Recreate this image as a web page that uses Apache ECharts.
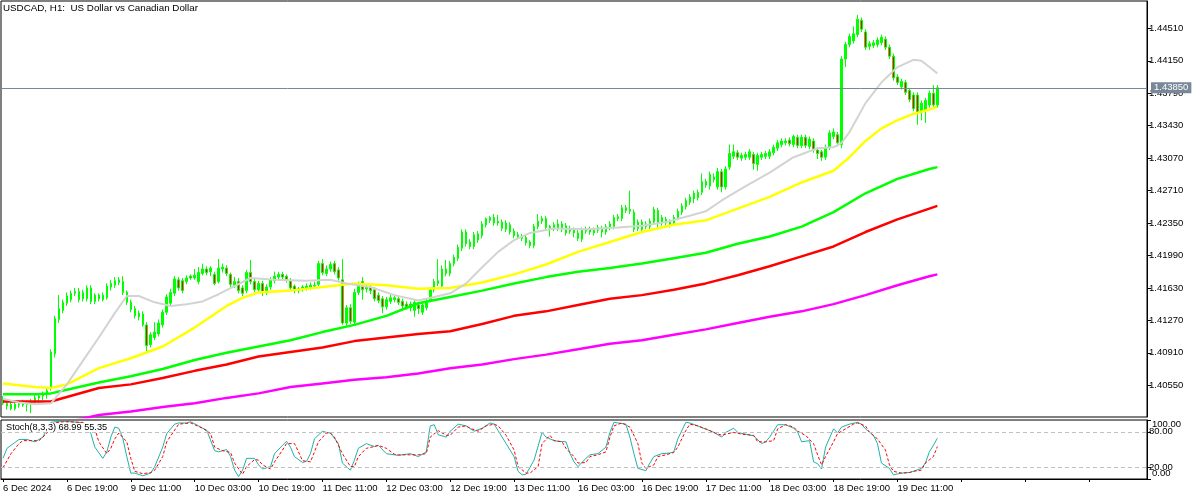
<!DOCTYPE html>
<html><head><meta charset="utf-8">
<script src="https://cdn.jsdelivr.net/npm/echarts@6/dist/echarts.min.js"></script>
<style>html,body{margin:0;padding:0;background:#fff}#c{width:1200px;height:500px}</style>
</head><body><div id="c"></div><script>
const chartTitle = 'USDCAD, H1:  US Dollar vs Canadian Dollar';
const stochTitle = 'Stoch(8,3,3) 68.99 55.35';
const bidPrice = 1.43850;
// x-axis tick labels, one every 16 hourly bars, starting at bar 0 (6 Dec 03:00)
const tickLabels = ['6 Dec 2024','6 Dec 19:00','9 Dec 11:00','10 Dec 03:00','10 Dec 19:00','11 Dec 11:00','12 Dec 03:00','12 Dec 19:00','13 Dec 11:00','16 Dec 03:00','16 Dec 19:00','17 Dec 11:00','18 Dec 03:00','18 Dec 19:00','19 Dec 11:00'];
const priceTicks = [1.40550,1.40910,1.41270,1.41630,1.41990,1.42350,1.42710,1.43070,1.43430,1.43790,1.44150,1.44510];
const stochLevelTicks = [20,80];
const stochEdgeTicks = [0,100];
// hourly candles: [open, high, low, close]
const candles = [
[1.4040,1.4043,1.4033,1.4035],[1.4035,1.4038,1.4028,1.4032],[1.4034,1.4036,1.4027,1.4029],[1.4029,1.4037,1.4027,1.4034],
[1.4034,1.4038,1.4030,1.4033],[1.4033,1.4039,1.4031,1.4036],[1.4036,1.4038,1.4026,1.4034],[1.4034,1.4040,1.4024,1.4037],
[1.4037,1.4044,1.4034,1.4041],[1.4041,1.4046,1.4037,1.4043],[1.4043,1.4048,1.4038,1.4045],[1.4045,1.4052,1.4040,1.4049],
[1.4052,1.4095,1.4049,1.4092],[1.4090,1.4132,1.4086,1.4129],[1.4128,1.4155,1.4124,1.4140],[1.4138,1.4150,1.4135,1.4147],
[1.4146,1.4158,1.4143,1.4154],[1.4150,1.4160,1.4147,1.4157],[1.4157,1.4163,1.4154,1.4159],[1.4159,1.4163,1.4147,1.4150],
[1.4151,1.4161,1.4148,1.4158],[1.4151,1.4166,1.4148,1.4163],[1.4163,1.4166,1.4145,1.4148],[1.4148,1.4157,1.4145,1.4155],
[1.4155,1.4157,1.4148,1.4151],[1.4150,1.4158,1.4148,1.4155],[1.4152,1.4168,1.4150,1.4165],[1.4164,1.4172,1.4160,1.4168],
[1.4166,1.4175,1.4163,1.4171],[1.4169,1.4175,1.4166,1.4172],[1.4170,1.4176,1.4155,1.4158],[1.4158,1.4160,1.4144,1.4147],
[1.4147,1.4150,1.4136,1.4139],[1.4140,1.4143,1.4129,1.4132],[1.4131,1.4138,1.4127,1.4135],[1.4134,1.4137,1.4120,1.4122],
[1.4122,1.4125,1.4093,1.4099],[1.4100,1.4114,1.4097,1.4111],[1.4108,1.4125,1.4105,1.4114],[1.4112,1.4128,1.4109,1.4124],
[1.4122,1.4139,1.4119,1.4136],[1.4136,1.4156,1.4133,1.4153],[1.4146,1.4162,1.4143,1.4158],[1.4157,1.4176,1.4154,1.4173],
[1.4172,1.4175,1.4160,1.4163],[1.4171,1.4174,1.4157,1.4160],[1.4170,1.4177,1.4167,1.4174],[1.4176,1.4178,1.4172,1.4174],
[1.4174,1.4184,1.4172,1.4177],[1.4170,1.4186,1.4167,1.4180],[1.4179,1.4190,1.4177,1.4184],[1.4184,1.4187,1.4177,1.4180],
[1.4181,1.4187,1.4176,1.4185],[1.4178,1.4181,1.4166,1.4168],[1.4170,1.4195,1.4168,1.4185],[1.4184,1.4190,1.4180,1.4186],
[1.4185,1.4188,1.4176,1.4179],[1.4178,1.4180,1.4164,1.4167],[1.4166,1.4175,1.4163,1.4170],[1.4170,1.4174,1.4157,1.4160],
[1.4163,1.4166,1.4154,1.4157],[1.4160,1.4183,1.4157,1.4180],[1.4180,1.4194,1.4167,1.4170],[1.4170,1.4174,1.4158,1.4161],
[1.4161,1.4171,1.4158,1.4168],[1.4168,1.4171,1.4154,1.4158],[1.4158,1.4167,1.4155,1.4164],[1.4164,1.4175,1.4161,1.4172],
[1.4171,1.4181,1.4168,1.4176],[1.4175,1.4181,1.4172,1.4178],[1.4178,1.4181,1.4172,1.4175],[1.4176,1.4178,1.4169,1.4172],
[1.4171,1.4174,1.4160,1.4163],[1.4165,1.4167,1.4157,1.4160],[1.4160,1.4164,1.4157,1.4162],[1.4162,1.4166,1.4159,1.4164],
[1.4163,1.4168,1.4160,1.4165],[1.4164,1.4169,1.4161,1.4166],[1.4165,1.4170,1.4162,1.4166],[1.4167,1.4193,1.4165,1.4190],
[1.4190,1.4195,1.4177,1.4180],[1.4179,1.4188,1.4176,1.4184],[1.4184,1.4192,1.4181,1.4189],[1.4190,1.4193,1.4178,1.4181],
[1.4183,1.4186,1.4171,1.4174],[1.4172,1.4195,1.4122,1.4124],[1.4124,1.4144,1.4121,1.4141],[1.4141,1.4145,1.4123,1.4126],
[1.4125,1.4162,1.4122,1.4158],[1.4158,1.4170,1.4155,1.4165],[1.4170,1.4175,1.4150,1.4161],[1.4162,1.4168,1.4158,1.4164],
[1.4164,1.4167,1.4156,1.4160],[1.4161,1.4164,1.4148,1.4151],[1.4155,1.4158,1.4146,1.4149],[1.4151,1.4154,1.4135,1.4142],
[1.4142,1.4153,1.4139,1.4150],[1.4148,1.4156,1.4145,1.4152],[1.4150,1.4155,1.4147,1.4152],[1.4151,1.4154,1.4144,1.4147],
[1.4148,1.4151,1.4140,1.4143],[1.4145,1.4148,1.4139,1.4142],[1.4145,1.4148,1.4137,1.4141],[1.4138,1.4150,1.4131,1.4147],
[1.4144,1.4147,1.4134,1.4140],[1.4136,1.4147,1.4133,1.4144],[1.4141,1.4151,1.4138,1.4147],[1.4150,1.4164,1.4147,1.4161],
[1.4161,1.4173,1.4158,1.4170],[1.4168,1.4195,1.4165,1.4171],[1.4165,1.4188,1.4162,1.4184],[1.4184,1.4194,1.4176,1.4179],
[1.4179,1.4193,1.4176,1.4190],[1.4190,1.4200,1.4187,1.4197],[1.4196,1.4211,1.4193,1.4208],[1.4207,1.4228,1.4204,1.4225],
[1.4225,1.4228,1.4209,1.4212],[1.4214,1.4217,1.4206,1.4209],[1.4209,1.4225,1.4206,1.4222],[1.4216,1.4226,1.4213,1.4223],
[1.4221,1.4237,1.4218,1.4234],[1.4233,1.4241,1.4230,1.4240],[1.4238,1.4243,1.4235,1.4241],[1.4241,1.4245,1.4232,1.4235],
[1.4235,1.4244,1.4232,1.4237],[1.4236,1.4239,1.4226,1.4229],[1.4228,1.4238,1.4225,1.4235],[1.4233,1.4236,1.4222,1.4225],
[1.4226,1.4229,1.4218,1.4221],[1.4220,1.4225,1.4217,1.4222],[1.4220,1.4223,1.4215,1.4218],[1.4219,1.4222,1.4210,1.4213],
[1.4214,1.4216,1.4207,1.4210],[1.4210,1.4234,1.4207,1.4231],[1.4231,1.4245,1.4228,1.4237],[1.4237,1.4243,1.4234,1.4240],
[1.4240,1.4243,1.4227,1.4230],[1.4231,1.4233,1.4220,1.4229],[1.4229,1.4236,1.4226,1.4233],[1.4229,1.4239,1.4226,1.4234],
[1.4234,1.4237,1.4225,1.4228],[1.4224,1.4235,1.4221,1.4232],[1.4229,1.4232,1.4223,1.4226],[1.4224,1.4230,1.4219,1.4227],
[1.4224,1.4227,1.4215,1.4218],[1.4217,1.4230,1.4214,1.4227],[1.4226,1.4231,1.4223,1.4228],[1.4228,1.4231,1.4222,1.4225],
[1.4224,1.4230,1.4221,1.4227],[1.4227,1.4233,1.4224,1.4230],[1.4229,1.4232,1.4219,1.4225],[1.4225,1.4234,1.4222,1.4231],
[1.4230,1.4237,1.4227,1.4234],[1.4231,1.4244,1.4228,1.4241],[1.4240,1.4245,1.4237,1.4242],[1.4240,1.4255,1.4237,1.4252],
[1.4252,1.4255,1.4246,1.4249],[1.4248,1.4271,1.4245,1.4250],[1.4247,1.4250,1.4225,1.4228],[1.4229,1.4239,1.4226,1.4236],
[1.4236,1.4239,1.4225,1.4228],[1.4231,1.4237,1.4228,1.4234],[1.4231,1.4240,1.4228,1.4237],[1.4236,1.4253,1.4233,1.4250],
[1.4249,1.4252,1.4230,1.4235],[1.4235,1.4244,1.4232,1.4241],[1.4239,1.4242,1.4232,1.4235],[1.4233,1.4239,1.4230,1.4236],
[1.4235,1.4244,1.4232,1.4241],[1.4241,1.4251,1.4238,1.4248],[1.4247,1.4257,1.4244,1.4254],[1.4253,1.4263,1.4250,1.4260],
[1.4258,1.4267,1.4255,1.4264],[1.4268,1.4271,1.4257,1.4262],[1.4263,1.4272,1.4260,1.4269],[1.4269,1.4290,1.4266,1.4281],
[1.4281,1.4284,1.4274,1.4277],[1.4276,1.4292,1.4272,1.4289],[1.4283,1.4290,1.4280,1.4286],[1.4275,1.4296,1.4272,1.4292],
[1.4292,1.4295,1.4269,1.4275],[1.4275,1.4298,1.4272,1.4295],[1.4297,1.4322,1.4294,1.4312],[1.4309,1.4322,1.4306,1.4314],
[1.4313,1.4316,1.4305,1.4308],[1.4307,1.4313,1.4304,1.4310],[1.4308,1.4314,1.4305,1.4311],[1.4308,1.4317,1.4305,1.4314],
[1.4311,1.4314,1.4294,1.4301],[1.4300,1.4313,1.4293,1.4310],[1.4308,1.4314,1.4305,1.4311],[1.4309,1.4315,1.4306,1.4312],
[1.4309,1.4317,1.4306,1.4314],[1.4313,1.4322,1.4310,1.4319],[1.4318,1.4327,1.4315,1.4324],[1.4322,1.4329,1.4319,1.4326],
[1.4324,1.4329,1.4321,1.4326],[1.4327,1.4330,1.4320,1.4323],[1.4322,1.4333,1.4319,1.4331],[1.4330,1.4333,1.4318,1.4321],
[1.4321,1.4333,1.4318,1.4330],[1.4330,1.4333,1.4318,1.4321],[1.4320,1.4331,1.4317,1.4328],[1.4326,1.4329,1.4313,1.4316],
[1.4316,1.4319,1.4306,1.4312],[1.4314,1.4316,1.4304,1.4308],[1.4308,1.4322,1.4305,1.4319],[1.4319,1.4338,1.4316,1.4335],
[1.4331,1.4340,1.4328,1.4336],[1.4333,1.4336,1.4320,1.4324],[1.4322,1.4420,1.4318,1.4417],[1.4417,1.4436,1.4408,1.4433],
[1.4433,1.4445,1.4430,1.4442],[1.4437,1.4453,1.4434,1.4445],[1.4444,1.4466,1.4441,1.4461],[1.4460,1.4463,1.4447,1.4450],
[1.4447,1.4450,1.4427,1.4430],[1.4431,1.4437,1.4427,1.4434],[1.4432,1.4438,1.4429,1.4435],[1.4433,1.4441,1.4430,1.4438],
[1.4435,1.4444,1.4432,1.4441],[1.4439,1.4442,1.4427,1.4430],[1.4430,1.4433,1.4417,1.4420],[1.4420,1.4423,1.4393,1.4396],
[1.4397,1.4400,1.4388,1.4391],[1.4386,1.4395,1.4383,1.4392],[1.4391,1.4394,1.4377,1.4380],[1.4382,1.4385,1.4369,1.4372],
[1.4377,1.4380,1.4359,1.4362],[1.4377,1.4380,1.4344,1.4357],[1.4358,1.4371,1.4349,1.4368],[1.4360,1.4374,1.4346,1.4371],
[1.4366,1.4382,1.4363,1.4379],[1.4379,1.4388,1.4363,1.4366],[1.4366,1.4388,1.4363,1.4385]
];
// moving averages: [bar index, value]
const maGrey = [[0,1.4040],[4,1.4036],[8,1.4034],[12,1.4035],[16,1.4056],[20,1.4082],[24,1.4108],[28,1.4135],[31,1.4154],[34,1.4154],[38,1.4147],[42,1.4143],[46,1.4145],[50,1.4148],[54,1.4156],[58,1.4165],[62,1.4174],[68,1.4172],[76,1.4171],[82,1.4172],[86,1.4168],[92,1.4164],[98,1.4155],[104,1.4149],[108,1.4153],[112,1.4157],[116,1.4168],[120,1.4186],[124,1.4203],[128,1.4216],[132,1.4224],[138,1.4229],[146,1.4228],[154,1.4230],[160,1.4232],[166,1.4236],[172,1.4243],[176,1.4248],[180,1.4260],[186,1.4276],[192,1.4291],[198,1.4308],[204,1.4318],[208,1.4319],[210,1.4324],[212,1.4336],[216,1.4368],[220,1.4391],[224,1.4408],[228,1.4416],[230,1.4415],[232,1.4408],[234,1.4401]];
const maYellow = [[0,1.4057],[8,1.4053],[12,1.4052],[16,1.4056],[24,1.4074],[32,1.4085],[40,1.4098],[48,1.4119],[56,1.4143],[60,1.4152],[64,1.4158],[72,1.4160],[80,1.4164],[88,1.4168],[96,1.4166],[104,1.4162],[112,1.4163],[120,1.4169],[128,1.4178],[136,1.4189],[144,1.4203],[152,1.4214],[160,1.4225],[168,1.4233],[176,1.4238],[184,1.4251],[192,1.4264],[200,1.4280],[208,1.4293],[212,1.4308],[216,1.4326],[220,1.4340],[224,1.4349],[228,1.4356],[232,1.4361],[234,1.4364]];
const maGreen = [[0,1.4045],[8,1.4045],[12,1.4046],[16,1.4050],[24,1.4058],[32,1.4065],[40,1.4073],[48,1.4083],[56,1.4091],[64,1.4098],[72,1.4105],[80,1.4114],[88,1.4122],[96,1.4132],[104,1.4146],[112,1.4153],[120,1.4160],[128,1.4168],[136,1.4175],[144,1.4181],[152,1.4185],[160,1.4190],[168,1.4196],[176,1.4202],[184,1.4212],[192,1.4220],[200,1.4231],[208,1.4247],[216,1.4268],[224,1.4284],[232,1.4295],[234,1.4297]];
const maRed = [[0,1.4037],[8,1.4037],[12,1.4037],[16,1.4042],[24,1.4052],[32,1.4056],[40,1.4063],[48,1.4071],[56,1.4078],[64,1.4087],[72,1.4092],[80,1.4097],[88,1.4104],[96,1.4108],[104,1.4112],[112,1.4115],[120,1.4123],[128,1.4132],[136,1.4137],[144,1.4144],[152,1.4151],[160,1.4155],[168,1.4161],[176,1.4168],[184,1.4177],[192,1.4187],[200,1.4198],[208,1.4209],[216,1.4225],[224,1.4239],[232,1.4251],[234,1.4254]];
const maMagenta = [[16,1.4014],[24,1.4022],[32,1.4026],[40,1.4031],[48,1.4035],[56,1.4041],[64,1.4046],[72,1.4053],[80,1.4057],[88,1.4061],[96,1.4064],[104,1.4068],[112,1.4074],[120,1.4078],[128,1.4084],[136,1.4089],[144,1.4095],[152,1.4101],[160,1.4105],[168,1.4111],[176,1.4117],[184,1.4124],[192,1.4131],[200,1.4137],[208,1.4145],[216,1.4155],[224,1.4166],[232,1.4176],[234,1.4178]];
// stochastic %K (main) and %D (signal): [bar index, value]
const stochMain = [[0,35],[1,52],[3,62],[4,67],[6,67],[8,63],[10,71],[11,85],[12,96],[13,97],[15,98],[17,97],[19,96],[20,95],[21,88],[22,77],[23,54],[25,35],[26,46],[27,71],[28,88],[29,86],[30,69],[31,38],[32,10],[33,10],[35,5.5],[37,10],[38,21],[40,54],[41,77],[43,93],[44,95],[46,95],[47,97],[49,90],[50,86],[51,83],[53,48],[54,46],[56,50],[57,38],[58,15],[59,4],[60,15],[61,35],[63,35],[64,24],[65,17],[67,21],[68,43],[70,57],[71,64],[72,54],[73,38],[75,28],[76,30],[77,43],[78,68],[80,81],[81,79],[82,78],[84,60],[85,27],[87,15],[88,32],[89,52],[91,60],[93,55],[94,57],[96,43],[98,41],[99,40],[102,43],[104,38],[106,46],[107,90],[108,92],[109,75],[111,71],[112,81],[114,93],[116,90],[118,81],[120,86],[122,95],[123,93],[124,82],[126,60],[128,38],[129,13],[130,7],[131,8],[133,32],[135,79],[136,71],[138,65],[139,64],[141,63],[142,43],[143,29],[144,21],[146,35],[147,41],[149,43],[151,54],[152,79],[153,96],[154,95],[156,93],[157,71],[158,43],[159,18],[161,14],[162,27],[163,38],[165,43],[167,44],[168,46],[169,68],[171,96],[172,95],[174,90],[175,87],[177,82],[178,79],[180,71],[181,79],[183,86],[184,79],[186,76],[188,73],[190,60],[191,63],[192,71],[194,92],[196,92],[198,86],[199,80],[200,63],[202,65],[203,29],[204,26],[205,17],[206,54],[208,85],[209,78],[210,88],[212,93],[214,96],[215,93],[216,85],[218,74],[219,60],[220,27],[222,18],[223,7],[225,10],[227,11],[228,13],[230,18],[231,27],[232,46],[233,57],[234,69]];
const stochSignal = [[0,19],[2,43],[4,60],[5,65],[7,65],[9,65],[10,71],[11,78],[12,88],[13,95],[15,97],[17,97],[19,96],[20,96],[21,92],[23,85],[24,63],[26,43],[27,52],[28,68],[29,78],[31,63],[32,35],[33,13],[35,9],[37,11],[38,15],[40,38],[41,63],[43,83],[44,93],[47,95],[48,92],[50,86],[52,77],[53,54],[55,48],[57,45],[58,27],[60,8],[61,21],[63,33],[64,32],[65,24],[67,17],[68,29],[70,49],[71,60],[73,60],[74,46],[75,31],[77,29],[78,46],[79,63],[81,78],[82,78],[83,71],[85,43],[87,21],[88,21],[89,38],[91,52],[93,55],[94,57],[96,52],[98,42],[99,41],[102,41],[104,41],[106,43],[107,71],[109,82],[111,74],[112,74],[114,88],[116,90],[117,86],[119,81],[121,90],[123,93],[124,90],[126,74],[128,49],[129,21],[131,10],[132,10],[134,21],[135,60],[137,74],[138,65],[140,63],[141,52],[143,38],[144,27],[146,28],[147,38],[149,41],[151,46],[152,71],[153,90],[155,95],[157,88],[159,60],[160,27],[161,18],[163,24],[164,38],[166,41],[168,45],[169,54],[171,82],[172,93],[174,90],[176,85],[178,79],[180,74],[181,76],[183,79],[185,76],[188,74],[189,63],[191,63],[193,65],[194,85],[196,92],[198,88],[199,81],[201,74],[203,60],[204,41],[205,24],[206,38],[208,63],[209,77],[211,85],[213,93],[214,95],[216,90],[217,79],[219,68],[221,49],[222,24],[223,13],[225,10],[227,11],[228,13],[230,15],[231,27],[233,38],[234,55]];

const SLOTS = 287; // data bars plus empty right-side shift
const xCats = [];
for (let i = 0; i < SLOTS; i++) {
  const k = i / 16;
  xCats.push(i % 16 === 0 && k < tickLabels.length ? tickLabels[k] : '');
}
const candleData = candles.map(r => [r[0], r[3], r[2], r[1]]);

const FONT = 'Liberation Sans';
const chart = echarts.init(document.getElementById('c'));
const maLine = (data, color, width, extra) => Object.assign({
  type: 'line', xAxisIndex: 0, yAxisIndex: 0, data: data, symbol: 'none',
  lineStyle: { color: color, width: width }, z: 3, silent: true
}, extra || {});
const lbl = { fontFamily: FONT, fontSize: 9.5, color: '#000' };
chart.setOption({
  animation: false,
  backgroundColor: '#fff',
  title: [
    { text: chartTitle, left: 3, top: 3, padding: 0,
      textStyle: { fontFamily: FONT, fontSize: 9.8, fontWeight: 'normal', color: '#000' } },
    { text: stochTitle, left: 5, top: 423, padding: [0, 1, 0, 1], backgroundColor: '#fff', z: 10,
      textStyle: { fontFamily: FONT, fontSize: 9.2, fontWeight: 'normal', color: '#000' } }
  ],
  grid: [
    { left: 1, top: 1, width: 1146, height: 416, show: true, borderColor: '#000', borderWidth: 1, backgroundColor: '#fff' },
    { left: 1, top: 420, width: 1146, height: 59, show: true, borderColor: '#000', borderWidth: 1, backgroundColor: '#fff' }
  ],
  xAxis: [
    { type: 'category', gridIndex: 0, data: xCats, boundaryGap: true,
      axisLine: { show: false }, axisTick: { show: false }, axisLabel: { show: false }, splitLine: { show: false } },
    { type: 'category', gridIndex: 1, data: xCats, boundaryGap: true,
      axisLine: { show: true, lineStyle: { color: '#000' } },
      axisTick: { show: true, interval: 15, alignWithLabel: true, length: 3, lineStyle: { color: '#000' } },
      axisLabel: Object.assign({ interval: 15, align: 'left', margin: 4 }, lbl),
      splitLine: { show: false } }
  ],
  yAxis: [
    { type: 'value', gridIndex: 0, position: 'right', min: 1.40198, max: 1.44813,
      axisLine: { show: true, lineStyle: { color: '#000' } },
      axisTick: { show: true, length: 4, customValues: priceTicks, lineStyle: { color: '#000' } },
      axisLabel: Object.assign({ customValues: priceTicks, margin: 2, showMinLabel: true, showMaxLabel: true,
        formatter: v => v.toFixed(5) }, lbl),
      splitLine: { show: false } },
    { type: 'value', gridIndex: 1, position: 'right', min: 0, max: 100,
      axisLine: { show: true, lineStyle: { color: '#000' } },
      axisTick: { show: true, length: 4, customValues: stochEdgeTicks.concat(stochLevelTicks), lineStyle: { color: '#000' } },
      axisLabel: Object.assign({ customValues: stochLevelTicks, margin: 2, showMinLabel: true, showMaxLabel: true,
        formatter: v => v.toFixed(2) }, lbl),
      splitLine: { show: false } },
    { type: 'value', gridIndex: 1, position: 'right', min: 0, max: 100,
      axisLine: { show: false }, axisTick: { show: false },
      axisLabel: Object.assign({ customValues: stochEdgeTicks, margin: 5, showMinLabel: true, showMaxLabel: true,
        formatter: v => v === 100 ? '{a|100.00}' : '{b|0.00}',
        rich: { a: { padding: [9, 0, 0, 0], fontFamily: FONT, fontSize: 9.5 },
                b: { padding: [0, 0, 11, 0], fontFamily: FONT, fontSize: 9.5 } } }, lbl),
      splitLine: { show: false } }
  ],
  series: [
    { type: 'candlestick', xAxisIndex: 0, yAxisIndex: 0, data: candleData, barWidth: 2, z: 2, silent: true,
      itemStyle: { color: '#00ff00', color0: '#ff0000', borderColor: '#00ff00', borderColor0: '#00ff00', borderWidth: 1 },
      markLine: { silent: true, symbol: ['none', 'none'], animation: false, precision: 5,
        lineStyle: { color: '#778899', width: 1, type: 'solid' },
        label: { show: true, position: 'end', distance: 4, formatter: () => bidPrice.toFixed(5),
          backgroundColor: '#778899', color: '#fff', padding: [1, 3, 0, 3], fontFamily: FONT, fontSize: 9.5 },
        data: [{ yAxis: bidPrice }] } },
    maLine(maMagenta, '#ff00ff', 2.5),
    maLine(maRed, '#ff0000', 2.5),
    maLine(maGreen, '#00ff00', 2.5),
    maLine(maYellow, '#ffff00', 2.5),
    maLine(maGrey, '#d3d3d3', 2),
    { type: 'line', xAxisIndex: 1, yAxisIndex: 1, data: stochMain, symbol: 'none', silent: true,
      lineStyle: { color: '#20b2aa', width: 1 }, z: 3,
      markLine: { silent: true, symbol: ['none', 'none'], animation: false, label: { show: false },
        lineStyle: { color: '#c0c0c0', width: 1, type: [4, 3] },
        data: [{ yAxis: 20 }, { yAxis: 80 }] } },
    { type: 'line', xAxisIndex: 1, yAxisIndex: 1, data: stochSignal, symbol: 'none', silent: true,
      lineStyle: { color: '#ff0000', width: 1, type: [3, 2] }, z: 4 }
  ]
});
</script></body></html>
